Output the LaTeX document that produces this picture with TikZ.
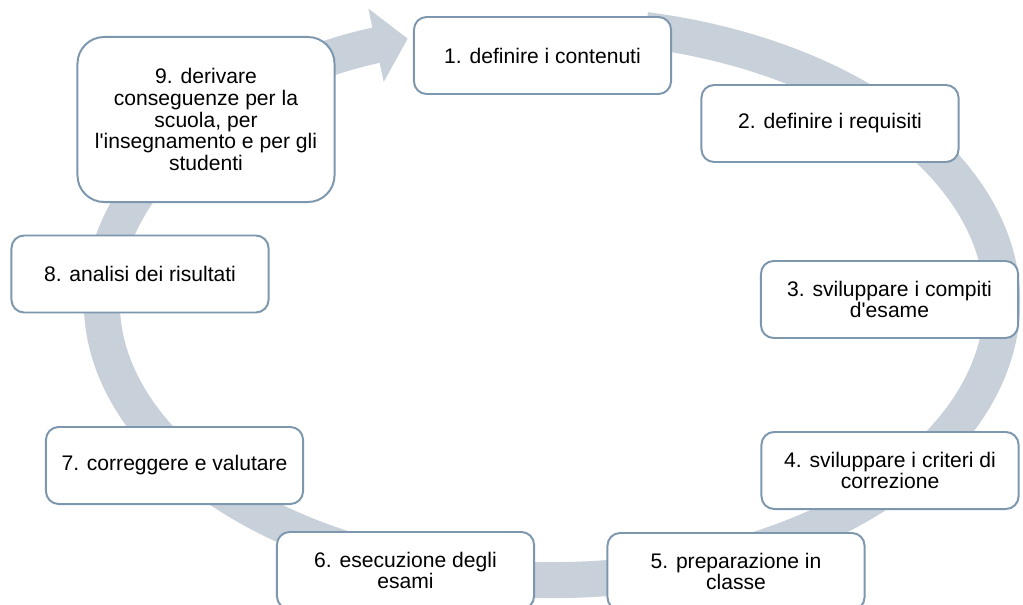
\documentclass[tikz,border=0pt]{standalone}
\usepackage{fontspec}
\setmainfont{Liberation Sans}
\usepackage{tikz}
\usetikzlibrary{arrows.meta}
\definecolor{ringfill}{HTML}{C8D1DA}
\definecolor{boxline}{HTML}{7D97AE}

\begin{document}
\begin{tikzpicture}[x=0.025cm,y=0.025cm]
\tikzset{stepbox/.style = {draw=boxline,fill=white,line width=1.4pt,rounded corners=9pt,
  minimum width=6.425cm,minimum height=1.925cm,inner sep=0pt,align=center,
  font=\fontsize{15}{15.5}\selectfont}}
\tikzset{ring/.style = {draw=ringfill,line width=25.6pt,-{Triangle[width=52pt,length=23pt]}}}
\useasboundingbox (0,0) rectangle (1023,-604);
% the cycle arrow
\draw[ring] (552,-302) ++(78:11.25cm and 6.95cm)
  arc[start angle=78,end angle=-251.3,x radius=11.25cm,y radius=6.95cm];
\node[stepbox](def) at (542.5,-55.5) {1. definire i contenuti};
\node[stepbox](req) at (830,-123.5) {2. definire i requisiti};
\node[stepbox](task) at (889.5,-299.5) {3. sviluppare i compiti\\d\textquotesingle esame};
\node[stepbox](crit) at (890,-470.5) {4. sviluppare i criteri di\\correzione};
\node[stepbox](prep) at (736,-571.5) {5. preparazione in\\classe};
\node[stepbox](exam) at (405.5,-570.5) {6. esecuzione degli\\esami};
\node[stepbox](grade) at (174.5,-465.5) {7. correggere e valutare};
\node[stepbox](anal) at (140,-274) {8. analisi dei risultati};
\node[stepbox,minimum height=4.125cm,rounded corners=19pt](cons) at (206,-119.5)
  {9. derivare\\conseguenze per la\\scuola, per\\l\textquotesingle insegnamento e per gli\\studenti};
\end{tikzpicture}
\end{document}
